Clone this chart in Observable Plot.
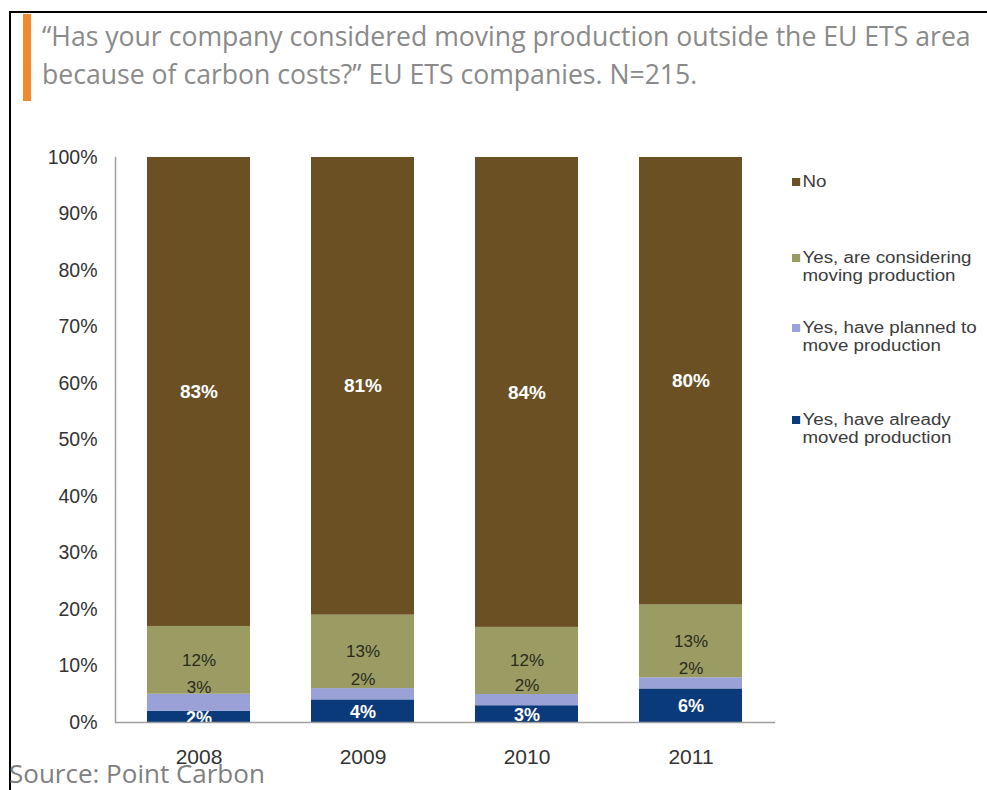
<!DOCTYPE html>
<html>
<head>
<meta charset="utf-8">
<script src="https://cdn.jsdelivr.net/npm/d3@7"></script>
<script src="https://cdn.jsdelivr.net/npm/@observablehq/plot@0.6"></script>
<style>
  html, body { margin: 0; padding: 0; background: #fff; }
  #wrap { position: relative; width: 987px; height: 790px; overflow: hidden; background: #fff; }
  #chart { position: absolute; left: 0; top: 0; }
  .border-top { position: absolute; left: 9px; top: 11px; width: 978px; height: 2px; background: #000; }
  .border-left { position: absolute; left: 9px; top: 11px; width: 2px; height: 779px; background: #000; }
  .accent { position: absolute; left: 23px; top: 14px; width: 8px; height: 87px; background: #f08a2c; }
  .title { position: absolute; left: 42px; top: 17px; font-family: "Open Sans", sans-serif; font-size: 26.6px; line-height: 38px; color: #8a8a8a; white-space: nowrap; }
  .source { position: absolute; left: 9px; top: 756px; font-family: "Open Sans", sans-serif; font-size: 26px; line-height: 35px; color: #808080; white-space: nowrap; }
  .leg { position: absolute; left: 792px; font-family: "Liberation Sans", Arial, sans-serif; font-size: 16px; line-height: 18px; color: #3c3c3c; transform: scaleX(1.17); transform-origin: left top; }
  .leg .sw { position: absolute; left: 0; top: 5px; width: 7px; height: 8px; }
  .leg .tx { margin-left: 9px; white-space: nowrap; }
</style>
</head>
<body>
<div id="wrap">
  <div id="chart"></div>
  <div class="border-top"></div>
  <div class="border-left"></div>
  <div class="accent"></div>
  <div class="title">“Has your company considered moving production outside the EU ETS area<br>because of carbon costs?” EU ETS companies. N=215.</div>
  <div id="legend"></div>
  <div class="source">Source: Point Carbon</div>
</div>
<script>
const years = ["2008", "2009", "2010", "2011"];
const categories = [
  "Yes, have already moved production",
  "Yes, have planned to move production",
  "Yes, are considering moving production",
  "No"
];
const colors = ["#0b3a7b", "#9aa1d6", "#9a9c64", "#6b5024"];
const moved = [2, 4, 3, 6];
const planned = [3, 2, 2, 2];
const considering = [12, 13, 12, 13];
const no = [83, 81, 84, 80];
const yTicks = [0, 0.1, 0.2, 0.3, 0.4, 0.5, 0.6, 0.7, 0.8, 0.9, 1];

const series = [moved, planned, considering, no];
const data = [];
years.forEach((yr, i) => {
  categories.forEach((c, j) => data.push({year: yr, category: c, value: series[j][i]}));
});

const stackOpts = {x: "year", y: "value", z: "category", order: categories, offset: "normalize", text: d => d.value + "%"};
const onlyCat = (c) => Plot.filter(d => d.category === c, Plot.stackY(stackOpts));

const chart = Plot.plot({
  width: 987,
  height: 790,
  marginLeft: 115,
  marginRight: 212,
  marginTop: 157,
  marginBottom: 68,
  style: {fontFamily: "'Liberation Sans', Arial, sans-serif", background: "transparent"},
  x: {domain: years, paddingInner: 0.37, paddingOuter: 0.19, label: null},
  y: {domain: [0, 1], label: null},
  color: {domain: categories, range: colors},
  marks: [
    Plot.barY(data, Plot.stackY({x: "year", y: "value", fill: "category", order: categories, offset: "normalize"})),
    Plot.text(data, {...onlyCat("No"), fill: "#fff", fontSize: 19, fontWeight: "bold"}),
    Plot.text(data, {...onlyCat(categories[2]), fill: "#2a2a1a", fontSize: 17}),
    Plot.text(data, {...onlyCat(categories[1]), fill: "#2a2a1a", fontSize: 17, dy: -15}),
    Plot.text(data, {...onlyCat(categories[0]), fill: "#fff", fontSize: 18, fontWeight: "bold", dy: 1, clip: "frame"}),
    Plot.ruleY([0], {stroke: "#a0a0a0", strokeWidth: 1.5}),
    Plot.frame({anchor: "left", stroke: "#a0a0a0", strokeWidth: 1.5}),
    Plot.axisY({ticks: yTicks, tickSize: 0, tickPadding: 18, tickFormat: d => Math.round(d * 100) + "%", fontSize: 19.5, fill: "#333", label: null}),
    Plot.axisX({tickSize: 0, tickPadding: 27, fontSize: 21, fill: "#333", label: null})
  ]
});
document.getElementById("chart").appendChild(chart);

const legendTops = [173, 249, 319, 411];
const legendLines = [
  ["No"],
  ["Yes, are considering", "moving production"],
  ["Yes, have planned to", "move production"],
  ["Yes, have already", "moved production"]
];
const legendOrder = [3, 2, 1, 0];
const legend = document.getElementById("legend");
legendOrder.forEach((ci, k) => {
  const el = document.createElement("div");
  el.className = "leg";
  el.style.top = legendTops[k] + "px";
  const sw = document.createElement("div");
  sw.className = "sw";
  sw.style.background = colors[ci];
  el.appendChild(sw);
  const tx = document.createElement("div");
  tx.className = "tx";
  tx.innerHTML = legendLines[k].join("<br>");
  el.appendChild(tx);
  legend.appendChild(el);
});
</script>
</body>
</html>
